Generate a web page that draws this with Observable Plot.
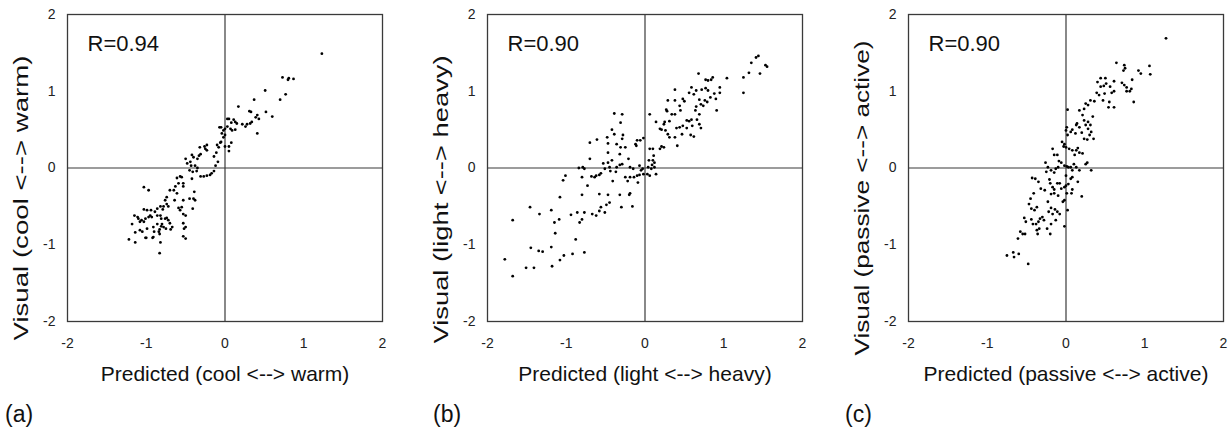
<!DOCTYPE html>
<html>
<head>
<meta charset="utf-8">
<script src="https://cdn.jsdelivr.net/npm/d3@7"></script>
<script src="https://cdn.jsdelivr.net/npm/@observablehq/plot@0.6"></script>
<style>
  html, body { margin: 0; padding: 0; background: #fff; overflow: hidden; }
  #wrap { position: relative; width: 1231px; height: 435px; font-family: "Liberation Sans", Arial, sans-serif; }
  .panel { position: absolute; top: 0; width: 410px; height: 435px; }
  .panel svg { max-width: none !important; width: 410px; height: 435px; }
  .tag { position: absolute; top: 401px; font-size: 23px; color: #111; font-family: "Liberation Sans", Arial, sans-serif; }
</style>
</head>
<body>
<div id="wrap"></div>
<script>
// ---- data ----
const tickValues = [-2, -1, 0, 1, 2];
const panelTags = ["(a)", "(b)", "(c)"];
const rLabels = ["R=0.94", "R=0.90", "R=0.90"];
const xLabels = ["Predicted (cool <--> warm)", "Predicted (light <--> heavy)", "Predicted (passive <--> active)"];
const yLabels = ["Visual (cool <--> warm)", "Visual (light <--> heavy)", "Visual (passive <--> active)"];

// [predicted, visual]
const coolWarm = [
[0.17,0.80],[0.31,0.74],[0.33,0.73],[0.41,0.69],[0.43,0.64],[0.39,0.66],[0.52,0.73],[0.60,0.67],[0.03,0.64],[0.05,0.64],[0.11,0.63],[0.13,0.60],[0.08,0.59],[0.15,0.58],[0.22,0.57],[0.26,0.54],[0.28,0.57],[0.32,0.58],[0.34,0.60],[0.41,0.45],[-0.07,0.53],[-0.05,0.53],[-0.02,0.49],[0.00,0.51],[0.03,0.54],[0.07,0.51],[0.09,0.49],[0.13,0.50],[-0.04,0.45],[0.00,0.43],[-0.02,0.40],[-0.05,0.34],[0.00,0.28],[0.05,0.28],[0.08,0.33],[0.05,0.22],[-0.10,0.30],[-0.08,0.27],[-0.06,0.33],[-0.11,0.20],[-0.14,0.15],[-0.09,0.08],[-0.12,0.03],[-0.14,-0.04],[-0.17,-0.07],[-0.19,-0.09],[-0.23,-0.10],[-0.27,-0.11],[-0.31,-0.11],[-0.32,0.27],[-0.26,0.28],[-0.23,0.30],[-0.25,0.25],[-0.23,0.23],[-0.31,0.18],[-0.33,0.16],[-0.35,0.12],[-0.40,0.14],[-0.42,0.17],[-0.44,0.08],[-0.43,0.03],[-0.38,0.03],[-0.35,0.00],[-0.36,-0.04],[-0.41,-0.05],[-0.42,-0.14],[-0.45,-0.03],[-0.50,0.12],[-0.48,0.06],[-0.55,-0.12],[-0.57,-0.11],[-0.61,-0.13],[-0.59,-0.20],[-0.53,-0.20],[-0.53,-0.24],[-0.63,-0.24],[-0.65,-0.29],[-0.70,-0.29],[-0.61,-0.33],[-0.64,-0.42],[-0.74,-0.38],[-0.76,-0.42],[-0.74,-0.47],[-0.72,-0.50],[-0.78,-0.50],[-0.82,-0.50],[-0.79,-0.54],[-0.86,-0.53],[-0.89,-0.57],[-0.94,-0.55],[-0.99,-0.55],[-0.95,-0.62],[-0.97,-0.64],[-1.03,-0.54],[-1.03,-0.25],[-0.97,-0.29],[-0.93,-0.64],[-0.86,-0.62],[-0.82,-0.62],[-0.81,-0.66],[-0.76,-0.66],[-0.74,-0.65],[-0.72,-0.68],[-0.70,-0.72],[-0.67,-0.77],[-0.69,-0.80],[-0.75,-0.79],[-0.80,-0.73],[-0.81,-0.76],[-0.83,-0.80],[-0.84,-0.83],[-0.90,-0.83],[-0.91,-0.77],[-0.86,-0.73],[-0.91,-0.90],[-0.83,-0.86],[-0.78,-0.77],[-0.82,-0.97],[-0.83,-1.11],[-1.00,-0.91],[-1.05,-0.83],[-1.08,-0.81],[-1.14,-0.84],[-1.18,-0.73],[-1.15,-0.62],[-1.11,-0.64],[-1.10,-0.66],[-1.06,-0.68],[-1.08,-0.70],[-1.03,-0.70],[-0.99,-0.79],[-1.01,-0.66],[-1.22,-0.93],[-1.14,-0.97],[-1.01,-0.91],[-0.92,-0.91],[-0.59,-0.52],[-0.57,-0.55],[-0.55,-0.51],[-0.53,-0.42],[-0.53,-0.60],[-0.50,-0.62],[-0.53,-0.72],[-0.50,-0.77],[-0.52,-0.79],[-0.53,-0.89],[-0.50,-0.92],[-0.45,-0.40],[-0.40,-0.40],[-0.41,-0.53],[-0.39,-0.31],[-0.38,-0.42],[0.37,0.89],[0.73,1.18],[0.80,1.15],[0.87,1.16],[0.81,1.17],[1.23,1.49],[0.51,1.01],[0.77,0.96],[0.70,0.89]
];

const lightHeavy = [
[1.44,1.46],[1.41,1.44],[1.35,1.37],[1.32,1.24],[1.25,1.18],[1.46,1.23],[1.53,1.34],[1.55,1.32],[1.25,0.98],[1.04,1.17],[0.86,1.18],[0.84,1.15],[0.80,1.14],[0.77,1.15],[0.68,1.23],[0.95,1.05],[0.95,0.98],[0.91,0.75],[0.90,0.90],[0.88,0.97],[0.83,0.92],[0.77,1.04],[0.80,1.01],[0.72,1.02],[0.65,1.01],[0.62,0.96],[0.59,1.05],[0.56,0.98],[0.69,0.89],[0.71,0.83],[0.65,0.80],[0.64,0.75],[0.74,0.81],[0.76,0.88],[0.79,0.86],[0.69,0.70],[0.66,0.63],[0.69,0.57],[0.71,0.52],[0.59,0.63],[0.56,0.61],[0.60,0.55],[0.53,0.52],[0.48,0.55],[0.44,0.53],[0.40,0.52],[0.47,0.44],[0.38,0.40],[0.41,0.29],[0.58,0.43],[0.62,0.41],[0.48,0.90],[0.50,0.87],[0.44,0.81],[0.38,0.88],[0.29,0.88],[0.28,0.74],[0.27,0.76],[0.34,0.70],[0.38,0.70],[0.31,0.61],[0.25,0.60],[0.24,0.57],[0.19,0.51],[0.21,0.50],[0.26,0.49],[0.29,0.44],[0.31,0.40],[0.24,0.27],[0.21,0.28],[0.19,0.25],[0.14,0.60],[0.06,0.70],[0.38,1.02],[0.45,0.75],[0.53,0.62],
[0.10,0.25],[0.06,0.25],[0.11,0.16],[0.10,0.10],[0.05,0.10],[0.12,0.07],[0.09,0.04],[0.04,0.01],[0.08,-0.01],[0.12,0.01],[0.14,-0.08],[0.06,-0.10],[0.03,-0.08],[-0.02,-0.08],[-0.03,-0.01],[-0.05,-0.03],[-0.07,0.03],[-0.06,0.36],[-0.10,0.36],[-0.12,0.31],[-0.11,0.29],[-0.02,0.39],[-0.07,-0.09],[-0.10,-0.10],[-0.14,-0.12],[-0.19,-0.12],[-0.22,-0.17],[-0.25,-0.12],[-0.20,-0.35],[-0.16,-0.50],[-0.19,-0.33],[-0.09,-0.19],[-0.15,-0.01],[-0.19,0.01],[-0.21,0.12],[-0.29,0.38],[-0.28,0.43],[-0.25,0.27],[-0.31,0.27],[-0.32,0.18],[-0.36,0.31],[-0.39,0.44],[-0.39,0.71],[-0.29,0.70],[-0.31,0.59],[-0.42,0.50],[-0.29,0.05],[-0.32,0.04],[-0.36,0.01],[-0.37,-0.05],[-0.42,0.10],[-0.47,0.20],[-0.47,0.07],[-0.45,0.01],[-0.41,-0.17],[-0.44,-0.04],[-0.53,0.06],[-0.51,-0.01],[-0.56,-0.07],[-0.58,-0.09],[-0.62,-0.10],[-0.64,-0.12],[-0.68,-0.11],[-0.70,0.12],[-0.79,0.01],[-0.84,0.00],[-0.77,-0.01],[-0.80,-0.12],[-0.80,-0.35],[-0.73,-0.23],[-0.58,-0.34],[-0.47,-0.35],[-0.45,-0.45],[-0.49,-0.48],[-0.51,-0.58],[-0.56,-0.51],[-0.58,-0.56],[-0.62,-0.62],[-0.67,-0.60],[-0.77,-0.58],[-0.86,-0.58],[-0.94,-0.61],[-0.83,-0.71],[-0.80,-0.67],[-0.88,-0.93],[-0.92,-1.12],[-0.77,-1.10],[-1.03,-1.14],[-1.08,-1.20],[-1.18,-1.28],[-1.19,-1.03],[-1.30,-1.09],[-1.34,-0.60],[-1.15,-0.71],[-1.14,-0.85],[-1.19,-0.55],[-1.09,-0.67],[-1.08,-0.38],[-1.04,-0.16],[-1.01,-0.10],[-0.32,-0.35],[-0.30,-0.51],[-0.70,0.33],[-0.61,0.37],[-0.48,0.40],[-0.47,0.32],
[-1.78,-1.19],[-1.68,-1.41],[-1.68,-0.68],[-1.51,-1.30],[-1.41,-1.30],[-1.46,-0.51],[-1.45,-1.04],[-1.35,-1.08]
];

const passiveActive = [
[0.64,1.37],[0.74,1.34],[0.73,1.27],[0.75,1.30],[0.92,1.27],[0.95,1.23],[1.06,1.33],[1.07,1.22],[0.44,1.17],[0.50,1.17],[0.51,1.10],[0.48,1.07],[0.44,1.06],[0.40,1.12],[0.61,1.13],[0.71,1.11],[0.74,1.08],[0.77,1.00],[0.81,1.00],[0.83,1.03],[0.84,1.15],[0.86,0.86],[0.77,1.05],[0.56,1.06],[0.58,0.98],[0.61,1.00],[0.55,0.86],[0.54,0.79],[0.61,0.79],[0.49,0.97],[0.47,0.88],[0.42,0.95],[0.39,0.98],[0.36,0.87],[0.31,0.88],[0.28,0.82],[0.25,0.84],[0.23,0.77],[0.17,0.75],[0.21,0.69],[0.23,0.62],[0.25,0.56],[0.28,0.60],[0.28,0.51],[0.32,0.47],[0.31,0.56],[0.34,0.67],[0.35,0.38],[0.30,0.43],[0.27,0.37],[0.23,0.38],[0.20,0.46],[0.17,0.53],[0.14,0.58],[0.13,0.56],[0.12,0.45],[0.08,0.50],[0.06,0.47],[0.02,0.76],[0.01,0.53],[0.00,0.49],[0.02,0.43],[-0.05,0.34],[-0.02,0.31],[-0.03,0.28],[0.00,0.27],[0.04,0.25],[0.08,0.23],[0.13,0.23],[0.15,0.26],[0.11,0.17],[0.17,0.20],[0.21,0.19],[0.27,0.07],[0.25,0.05],[0.32,-0.03],[0.17,-0.03],[0.13,0.01],[0.10,0.05],[0.06,0.01],[0.08,-0.03],[0.03,0.01],[0.01,0.02],[-0.02,0.03],[-0.06,0.07],[-0.09,0.09],[-0.11,0.17],[-0.17,0.25],[-0.15,0.17],[-0.10,0.01],[-0.13,-0.01],[-0.15,-0.06],[-0.19,-0.03],[-0.23,0.01],[-0.26,0.07],[-0.25,-0.05],[-0.21,-0.15],[-0.20,-0.20],[-0.17,-0.25],[-0.15,-0.28],[-0.11,-0.20],[-0.08,-0.20],[-0.06,-0.27],[-0.02,-0.25],[0.00,-0.23],[0.03,-0.21],[0.00,-0.10],[0.06,-0.14],[0.08,-0.12],[0.15,-0.18],[0.20,-0.37],[0.08,-0.28],[0.07,-0.33],[0.01,-0.33],[-0.02,-0.42],[-0.04,-0.44],[0.02,-0.55],[-0.02,-0.76],[-0.10,-0.36],[-0.15,-0.33],[-0.19,-0.34],[-0.23,-0.44],[-0.22,-0.57],[-0.17,-0.60],[-0.19,-0.52],[-0.14,-0.54],[-0.08,-0.60],[-0.11,-0.57],[-0.13,-0.68],[-0.19,-0.73],[-0.20,-0.86],[-0.24,-0.79],[-0.28,-0.68],[-0.30,-0.64],[-0.33,-0.66],[-0.35,-0.70],[-0.38,-0.73],[-0.37,-0.81],[-0.34,-0.79],[-0.36,-0.86],[-0.42,-0.73],[-0.44,-0.67],[-0.47,-0.47],[-0.45,-0.40],[-0.41,-0.33],[-0.43,-0.13],[-0.39,-0.14],[-0.35,-0.18],[-0.32,-0.27],[-0.27,-0.29],[-0.53,-0.65],[-0.51,-0.70],[-0.52,-0.86],[-0.55,-0.86],[-0.58,-0.83],[-0.61,-0.92],[-0.75,-1.14],[-0.67,-1.10],[-0.66,-1.16],[-0.60,-1.12],[-0.48,-1.25],[-0.40,-0.55],[-0.37,-0.51],[-0.44,-0.53],[1.27,1.69]
];

const panelData = [coolWarm, lightHeavy, passiveActive];
const yLabelLengths = [285, 288, 315];
const yLabelBottoms = [340, 343, 355];
const panelLefts = [0, 420, 841];
const tagLefts = [5, 433, 845];

// ---- drawing ----
const wrap = document.getElementById("wrap");
const lineColor = "#3a3a3a";
const H = 435, MT = 14, MB = 114;
const frameMidY = MT + (H - MT - MB) / 2;

panelData.forEach((pts, i) => {
  const data = pts.map(([x, y]) => ({x, y}));
  const chart = Plot.plot({
    width: 410,
    height: H,
    marginLeft: 67,
    marginRight: 28,
    marginTop: MT,
    marginBottom: MB,
    style: {fontFamily: "'Liberation Sans', Arial, sans-serif", background: "transparent", overflow: "visible", color: "#222"},
    x: {domain: [-2, 2]},
    y: {domain: [-2, 2]},
    marks: [
      Plot.ruleX([0], {stroke: lineColor, strokeWidth: 1.2}),
      Plot.ruleY([0], {stroke: lineColor, strokeWidth: 1.2}),
      Plot.frame({stroke: lineColor, strokeWidth: 1.3}),
      Plot.axisX({ticks: tickValues, tickSize: 0, tickPadding: 17, fontSize: 14, tickFormat: d => String(d), label: null}),
      Plot.axisY({ticks: tickValues, tickSize: 0, tickPadding: 12, fontSize: 14, tickFormat: d => String(d), label: null}),
      Plot.dot(data, {x: "x", y: "y", r: 1.4, fill: "#000", stroke: null}),
      Plot.text([rLabels[i]], {text: d => d, frameAnchor: "top-left", dx: 20, dy: 29, textAnchor: "start", lineAnchor: "middle", fontSize: 22, fill: "#111"}),
      Plot.text([xLabels[i]], {text: d => d, frameAnchor: "bottom", dy: 53, lineAnchor: "middle", fontSize: 21, fill: "#111"}),
      Plot.text([yLabels[i]], {text: d => d, frameAnchor: "left", rotate: -90, dx: -46, dy: yLabelBottoms[i] - frameMidY, textAnchor: "start", lineAnchor: "middle", fontSize: 20, fill: "#111"})
    ]
  });
  chart.style.maxWidth = "none";
  d3.select(chart).selectAll("text")
    .filter(function() { return this.textContent === yLabels[i]; })
    .attr("textLength", yLabelLengths[i])
    .attr("lengthAdjust", "spacingAndGlyphs");
  const holder = document.createElement("div");
  holder.className = "panel";
  holder.style.left = panelLefts[i] + "px";
  holder.appendChild(chart);
  wrap.appendChild(holder);

  const tag = document.createElement("div");
  tag.className = "tag";
  tag.style.left = tagLefts[i] + "px";
  tag.textContent = panelTags[i];
  wrap.appendChild(tag);
});
</script>
</body>
</html>
